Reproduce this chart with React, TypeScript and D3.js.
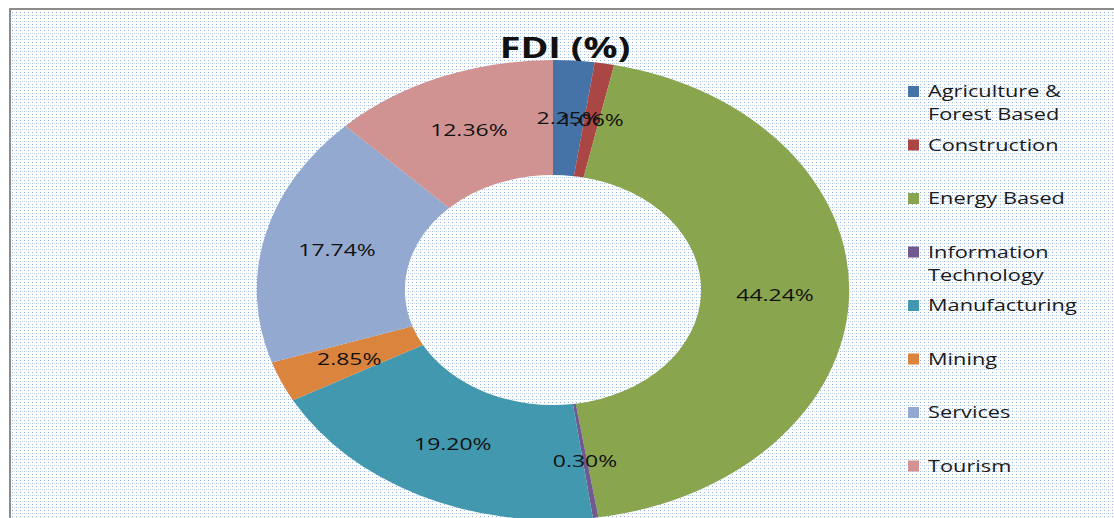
import React from "react";
import * as d3 from "d3";

const categories = [
  "Agriculture & Forest Based",
  "Construction",
  "Energy Based",
  "Information Technology",
  "Manufacturing",
  "Mining",
  "Services",
  "Tourism",
];
const legendLines = [
  ["Agriculture &", "Forest Based"],
  ["Construction"],
  ["Energy Based"],
  ["Information", "Technology"],
  ["Manufacturing"],
  ["Mining"],
  ["Services"],
  ["Tourism"],
];
const values = [2.25, 1.06, 44.24, 0.3, 19.2, 2.85, 17.74, 12.36];
const colors = [
  "#4572A7",
  "#AA4643",
  "#89A54E",
  "#71588F",
  "#4198AF",
  "#DB843D",
  "#93A9CF",
  "#D19392",
];

const W = 1114;
const H = 518;
const cx = 553;
const cy = 290;
const R = 230;
const stretch = 1.288;
const innerR = R * 0.5;

export default function App() {
  const pie = d3
    .pie<number>()
    .sort(null)
    .value((d) => d)(values);
  const arc = d3.arc<d3.PieArcDatum<number>>().innerRadius(innerR).outerRadius(R);
  const labelR = (R + innerR) / 2;
  const fmt = d3.format(".2f");
  const legendX = 908;
  const legendY0 = 91;
  const legendStep = 53.5;
  const font = "'Open Sans', 'DejaVu Sans', sans-serif";

  return (
    <svg
      width={W}
      height={H}
      style={{ position: "absolute", left: 0, top: 0, background: "#fff" }}
    >
      <defs>
        <pattern id="dots" width="4" height="6" patternUnits="userSpaceOnUse">
          <rect x="0" y="0" width="4" height="6" fill="#ffffff" />
          <rect x="0" y="0" width="1" height="1" fill="#8fb0dc" />
          <rect x="2" y="3" width="1" height="1" fill="#c3d4ec" />
          <rect x="0" y="3" width="1" height="1" fill="#aac2e4" />
        </pattern>
      </defs>
      <rect x={10} y={9} width={W} height={H} fill="url(#dots)" stroke="#8c8c8c" strokeWidth={2} />
      <text
        transform={`translate(565,58) scale(1.35,1)`}
        textAnchor="middle"
        fontFamily={font}
        fontWeight="bold"
        fontSize={28}
        fill="#111"
      >
        FDI (%)
      </text>
      <g transform={`translate(${cx},${cy}) scale(${stretch},1)`}>
        {pie.map((p, i) => (
          <path key={categories[i]} d={arc(p) || ""} fill={colors[i]} />
        ))}
      </g>
      {pie.map((p, i) => {
        const a = (p.startAngle + p.endAngle) / 2;
        const x = cx + labelR * stretch * Math.sin(a);
        const y = cy - labelR * Math.cos(a);
        return (
          <text
            key={"l" + i}
            transform={`translate(${x},${y + 6}) scale(1.35,1)`}
            textAnchor="middle"
            fontFamily={font}
            fontSize={17}
            fill="#111"
          >
            {fmt(values[i])}%
          </text>
        );
      })}
      {categories.map((c, i) => {
        const y = legendY0 + i * legendStep;
        return (
          <g key={"lg" + i}>
            <rect x={legendX} y={y - 5} width={11} height={11} fill={colors[i]} />
            {legendLines[i].map((line, j) => (
              <text
                key={j}
                transform={`translate(${legendX + 20},${y + 6 + j * 23}) scale(1.28,1)`}
                fontFamily={font}
                fontSize={17}
                fill="#1a1a1a"
              >
                {line}
              </text>
            ))}
          </g>
        );
      })}
    </svg>
  );
}
